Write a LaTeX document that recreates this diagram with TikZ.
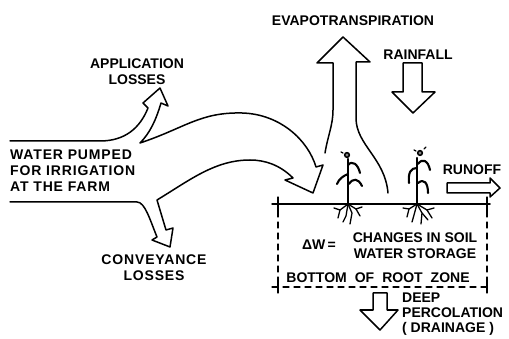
\documentclass[tikz,border=0pt]{standalone}
\usepackage{fontspec}
\setmainfont{Liberation Sans}
\begin{document}
\begin{tikzpicture}[x=1pt,y=-1pt, line join=round, line cap=round,
  flow/.style={line width=1.5pt},
  lab/.style={font=\fontsize{14}{16}\selectfont\bfseries, inner sep=0pt, align=center},
  plantst/.style={line width=2.1pt},
  rootst/.style={line width=1.3pt},
  tick/.style={line width=1.3pt},
  dashln/.style={line width=1.2pt, dash pattern=on 6pt off 5pt}]
\useasboundingbox (0,0) rectangle (509,339);

% main flow with application and conveyance losses
\draw[flow] (10,141) -- (100,141) .. controls (125,141) and (140,128) .. (148,108)
  -- (143,103) -- (160,88) -- (168,106) -- (161,103)
  .. controls (156,120) and (150,133) .. (140,143)
  .. controls (185,128) and (200,112) .. (242,113)
  .. controls (280,114) and (308,140) .. (316,167)
  -- (323,165) -- (313,193) -- (285,180) -- (293,178)
  .. controls (280,165) and (265,160) .. (250,160)
  .. controls (215,160) and (190,180) .. (157,200)
  -- (166,230) -- (173,228) -- (170,247) -- (152,240) -- (157,237)
  .. controls (150,220) and (145,202) .. (137,202) -- (10,202);

% evapotranspiration
\draw[flow] (325,153) .. controls (328,135) and (333,125) .. (333,110) -- (333,63)
  -- (317,63) -- (343,37) -- (370,62) -- (356,62) -- (356,118)
  .. controls (356,145) and (385,158) .. (388,193);

% rainfall
\draw[flow] (403,63) -- (403,92) -- (392,92) -- (413,113) -- (435,92) -- (422,92) -- (422,63) -- cycle;

% runoff
\draw[flow] (447,183) -- (490,183) -- (490,178) -- (500,188) -- (490,197) -- (490,193) -- (447,193) -- cycle;

% deep percolation
\draw[flow] (373,293) -- (387,293) -- (387,310) -- (398,310) -- (380,330) -- (360,310) -- (373,310) -- cycle;

% soil surface and root zone
\draw[line width=1.5pt] (272,204) -- (490,204);
\draw[tick] (278,197) -- (278,211);
\draw[tick] (487,197) -- (487,211);
\draw[tick] (278,281) -- (278,293);
\draw[tick] (487,281) -- (487,293);
\draw[dashln] (278,211) -- (278,281);
\draw[dashln] (487,211) -- (487,281);
\draw[dashln] (272,287) -- (490,287);

% plant 1
\draw[plantst] (348,159) -- (348,204);
\draw[line width=1.6pt] (347,155) circle (2.3);
\fill (347,155) circle (0.9);
\draw[line width=1.2pt] (343,153) -- (341,152);
\draw[plantst] (348,174) .. controls (343,176) and (339,179) .. (337,184);
\draw[plantst] (348,165) .. controls (352,160) and (358,164) .. (360,173);
\draw[plantst] (349,184) .. controls (353,178) and (358,178) .. (362,186);
\draw[rootst] (348,204) -- (340,210) -- (334,208);
\draw[rootst] (340,210) -- (338,218);
\draw[rootst] (348,204) -- (346,216) -- (343,222);
\draw[rootst] (348,204) -- (352,213) -- (350,224);
\draw[rootst] (348,204) -- (356,209) -- (362,207);
\draw[rootst] (356,209) -- (360,216);

% plant 2
\draw[plantst] (417,158) -- (417,204);
\draw[line width=1.6pt] (420,153) circle (2.3);
\fill (420,153) circle (0.9);
\draw[line width=1.2pt] (424,149) -- (426,147);
\draw[line width=1.2pt] (416,151) -- (414,150);
\draw[plantst] (417,168) .. controls (411,168) and (408,172) .. (409,183);
\draw[plantst] (418,164) .. controls (422,158) and (428,160) .. (430,170);
\draw[plantst] (418,183) .. controls (424,178) and (428,183) .. (428,193);
\draw[rootst] (417,204) -- (409,209) -- (403,208);
\draw[rootst] (409,209) -- (407,217);
\draw[rootst] (417,204) -- (414,215) -- (412,222);
\draw[rootst] (417,204) -- (422,213) -- (421,224);
\draw[rootst] (417,204) -- (427,210) -- (434,208);
\draw[rootst] (427,210) -- (432,218);
\draw[rootst] (422,213) -- (428,220);

% labels
\node[lab] (app) at (137,72) {APPLICATION\\LOSSES};
\node[lab, align=left, anchor=north west] (water) at (10,150)
  {\addfontfeature{LetterSpace=6}WATER PUMPED\\\addfontfeature{LetterSpace=6}FOR IRRIGATION\\\addfontfeature{LetterSpace=6}AT THE FARM};
\node[lab] (conv) at (154,268) {\addfontfeature{LetterSpace=6}CONVEYANCE\\\addfontfeature{LetterSpace=6}LOSSES};
\node[lab] (evap) at (353,21) {EVAPOTRANSPIRATION};
\node[lab] (rain) at (418,55) {RAINFALL};
\node[lab] (runoff) at (472,170) {RUNOFF};
\node[lab] (dw) at (319,245) {ΔW\,=};
\node[lab] (chg) at (415,246) {CHANGES IN SOIL\\WATER STORAGE};
\node[lab] (bot) at (378,278) {BOTTOM\hspace{8pt}OF\hspace{8pt}ROOT\hspace{8pt}ZONE};
\node[lab, align=left, anchor=north west, font=\fontsize{14}{15}\selectfont\bfseries] (deep) at (402,293)
  {DEEP\\PERCOLATION\\( DRAINAGE )};
\end{tikzpicture}
\end{document}
